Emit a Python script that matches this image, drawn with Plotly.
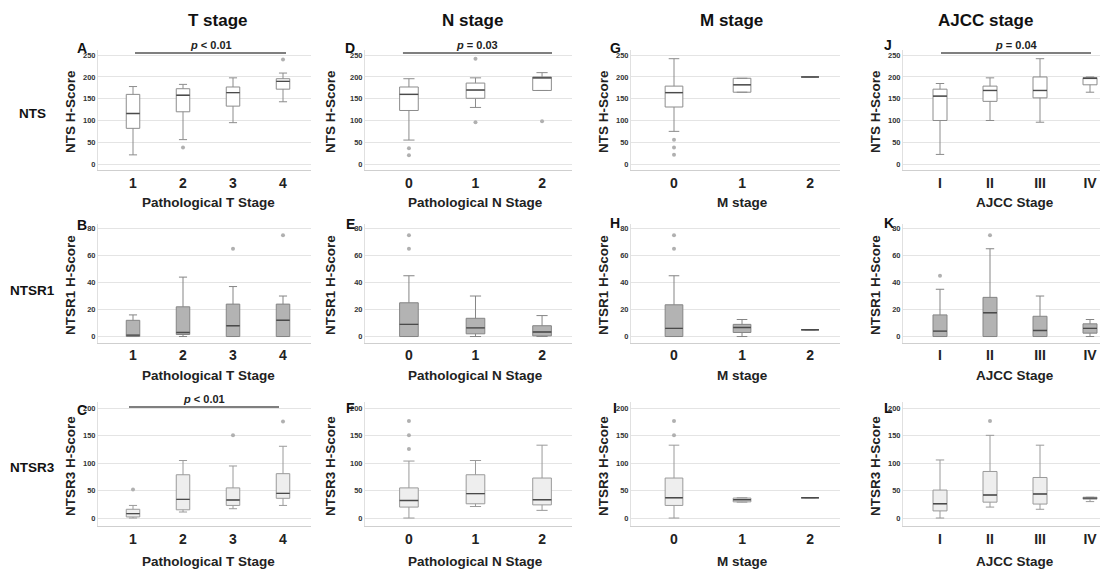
import plotly.graph_objects as go

FONT = "Arial, Liberation Sans, sans-serif"

# ---------------- categories ----------------
T_cats = ["1", "2", "3", "4"]
N_cats = ["0", "1", "2"]
M_cats = ["0", "1", "2"]
AJCC_cats = ["I", "II", "III", "IV"]

# ---------------- NTS H-score (row 1) ----------------
NTS_T = dict(low=[21, 56, 95, 143], q1=[82, 120, 133, 172], med=[116, 158, 164, 190],
             q3=[160, 173, 177, 196], high=[178, 183, 198, 209])
NTS_T_out = [("2", 38), ("4", 240)]
NTS_N = dict(low=[55, 130, 169], q1=[123, 151, 169], med=[160, 170, 198],
             q3=[177, 186, 200], high=[196, 198, 210])
NTS_N_out = [("0", 36), ("0", 20), ("1", 242), ("1", 96), ("2", 98)]
NTS_M = dict(low=[75, 165, 200], q1=[131, 165, 200], med=[164, 182, 200],
             q3=[179, 197, 200], high=[242, 197, 200])
NTS_M_out = [("0", 56), ("0", 38), ("0", 21)]
NTS_AJCC = dict(low=[22, 100, 96, 165], q1=[100, 144, 152, 182], med=[156, 169, 169, 197],
                q3=[172, 179, 200, 198.5], high=[185, 198, 242, 200])
NTS_AJCC_out = []

# ---------------- NTSR1 H-score (row 2) ----------------
NTSR1_T = dict(low=[0, 0, 0, 0], q1=[0, 1.5, 0, 0], med=[1, 3, 8, 12],
               q3=[12, 22, 24, 24], high=[16, 44, 37, 30])
NTSR1_T_out = [("3", 65), ("4", 75)]
NTSR1_N = dict(low=[0, 0, 0], q1=[0, 2, 0.5], med=[9, 6.4, 3.4],
               q3=[25, 13.5, 8], high=[45, 30, 15.5])
NTSR1_N_out = [("0", 75), ("0", 65)]
NTSR1_M = dict(low=[0, 0, 5], q1=[0, 3, 5], med=[6, 6.7, 5],
               q3=[23.5, 9, 5], high=[45, 12.6, 5])
NTSR1_M_out = [("0", 75), ("0", 65)]
NTSR1_AJCC = dict(low=[0, 0, 0, 0], q1=[0, 0, 0, 2.5], med=[4, 17.6, 4.5, 6],
                  q3=[16, 29, 15, 9.4], high=[35, 65, 30, 12.6])
NTSR1_AJCC_out = [("I", 45), ("II", 75)]

# ---------------- NTSR3 H-score (row 3) ----------------
NTSR3_T = dict(low=[0, 11, 17, 23], q1=[2, 15, 23, 36], med=[8, 34, 33, 45],
               q3=[16, 79, 55, 81], high=[23, 105, 95, 131])
NTSR3_T_out = [("1", 52), ("3", 151), ("4", 176)]
NTSR3_N = dict(low=[0, 21, 14], q1=[20, 26, 24], med=[32, 44.5, 33.5],
               q3=[55, 79, 73], high=[104, 105, 133])
NTSR3_N_out = [("0", 177), ("0", 151), ("0", 126)]
NTSR3_M = dict(low=[0, 29, 37], q1=[23, 29.5, 37], med=[37, 33.5, 37],
               q3=[73, 36.5, 37], high=[133, 37, 37])
NTSR3_M_out = [("0", 177), ("0", 151)]
NTSR3_AJCC = dict(low=[0, 20, 16, 30], q1=[13, 29, 25.5, 34.5], med=[26, 42, 44, 36.4],
                  q3=[51, 85, 74, 38], high=[106, 151, 133, 38])
NTSR3_AJCC_out = [("II", 177)]

# ---------------- labels ----------------
col_headers = ["T stage", "N stage", "M stage", "AJCC stage"]
row_labels = ["NTS", "NTSR1", "NTSR3"]
y_titles = ["NTS H-Score", "NTSR1 H-Score", "NTSR3 H-Score"]
x_titles = ["Pathological T Stage", "Pathological N Stage", "M stage", "AJCC Stage"]
panel_letters = [["A", "D", "G", "J"], ["B", "E", "H", "K"], ["C", "F", "I", "L"]]
p_values = {(0, 0): "<i>p</i> &lt; 0.01", (0, 1): "<i>p</i> = 0.03",
            (0, 3): "<i>p</i> = 0.04", (2, 0): "<i>p</i> &lt; 0.01"}

cats = [T_cats, N_cats, M_cats, AJCC_cats]
panels = [
    [(NTS_T, NTS_T_out), (NTS_N, NTS_N_out), (NTS_M, NTS_M_out), (NTS_AJCC, NTS_AJCC_out)],
    [(NTSR1_T, NTSR1_T_out), (NTSR1_N, NTSR1_N_out), (NTSR1_M, NTSR1_M_out), (NTSR1_AJCC, NTSR1_AJCC_out)],
    [(NTSR3_T, NTSR3_T_out), (NTSR3_N, NTSR3_N_out), (NTSR3_M, NTSR3_M_out), (NTSR3_AJCC, NTSR3_AJCC_out)],
]

# ---------------- layout geometry (pixels) ----------------
W, H = 1110, 572
col_px = [(98, 310.5), (365, 572), (631, 840), (903, 1100)]
col_range = [(-0.7, 3.55), (-0.66, 2.45), (-0.632, 2.44), (-0.74, 3.2)]
row_px = [(50, 170.1), (224.45, 342.6), (401.9, 525.7)]
row_range = [(-14, 262), (-4.5, 83), (-14, 212)]
row_dtick = [50, 20, 50]
box_w = [0.27, 0.28, 0.26, 0.28]
fill_cols = ["rgba(255,255,255,1)", "#b3b3b3", "#eeeeee"]
line_cols = ["#8c8c8c", "#858585", "#9a9a9a"]
p_line_y = [255, None, 202.7]
p_line_ext = {(0, 0): (0.04, 0.06), (0, 1): (-0.09, 0.15), (0, 3): (0.02, 0.02), (2, 0): (-0.08, -0.08)}
letter_px = [[(82, 48), (350, 48), (615, 48), (888, 45)],
             [(82, 225), (350, 224), (615, 223), (889, 223)],
             [(82, 410), (350, 408), (615, 408), (888, 408)]]
ytitle_x = [70, 330, 603, 875]
ytitle_y = [112, 285, 466]
xtitle_y = [202, 375, 561]
header_px = [(218, 20), (472, 20), (731, 20), (985, 20)]
rowlabel_y = [114, 290, 467]


def px(x):
    return x / W


def py(y):
    return 1 - y / H


fig = go.Figure()
layout_axes = {}
annotations = []
shapes = []

for r in range(3):
    for c in range(4):
        k = r * 4 + c + 1
        xa = "x" if k == 1 else f"x{k}"
        ya = "y" if k == 1 else f"y{k}"
        stats, outs = panels[r][c]
        cl = cats[c]
        pos = list(range(len(cl)))
        w = box_w[c]
        fig.add_trace(go.Box(
            x=pos, q1=stats["q1"], median=stats["med"], q3=stats["q3"],
            lowerfence=stats["low"], upperfence=stats["high"],
            width=w, whiskerwidth=0.6, fillcolor=fill_cols[r],
            line=dict(color=line_cols[r], width=1), boxpoints=False,
            xaxis=xa, yaxis=ya, showlegend=False, hoverinfo="skip"))
        # darker median lines
        mx, my = [], []
        for i, m in zip(pos, stats["med"]):
            mx += [i - w / 2, i + w / 2, None]
            my += [m, m, None]
        fig.add_trace(go.Scatter(x=mx, y=my, mode="lines",
                                 line=dict(color="#4a4a4a", width=1.4),
                                 xaxis=xa, yaxis=ya, showlegend=False, hoverinfo="skip"))
        if outs:
            fig.add_trace(go.Scatter(
                x=[cl.index(o[0]) for o in outs], y=[o[1] for o in outs], mode="markers",
                marker=dict(color="#b0b0b0", size=4, symbol="circle"),
                xaxis=xa, yaxis=ya, showlegend=False, hoverinfo="skip"))

        x0p, x1p = col_px[c]
        y0p, y1p = row_px[r]
        xkey = "xaxis" if k == 1 else f"xaxis{k}"
        ykey = "yaxis" if k == 1 else f"yaxis{k}"
        layout_axes[xkey] = dict(
            domain=[px(x0p), px(x1p)], anchor=ya, range=list(col_range[c]),
            tickmode="array", tickvals=pos, ticktext=cl,
            tickfont=dict(family=FONT, size=14, color="#222222", weight="bold"),
            showgrid=False, zeroline=False, showline=True, linecolor="#cfcfcf",
            linewidth=1, ticks="", fixedrange=True)
        layout_axes[ykey] = dict(
            domain=[py(y1p), py(y0p)], anchor=xa, range=list(row_range[r]),
            tick0=0, dtick=row_dtick[r],
            tickfont=dict(family=FONT, size=7.5, color="#333333", weight="bold"),
            showgrid=True, gridcolor="#e4e4e4", gridwidth=1, zeroline=False,
            showline=True, linecolor="#e0e0e0", ticks="", fixedrange=True)

        # panel letters
        lx, ly = letter_px[r][c]
        annotations.append(dict(text=panel_letters[r][c], x=px(lx), y=py(ly), xref="paper", yref="paper",
                                showarrow=False, xanchor="center", yanchor="middle",
                                font=dict(family=FONT, size=14, color="#111111", weight="bold")))
        # y titles
        annotations.append(dict(text=y_titles[r], x=px(ytitle_x[c]), y=py(ytitle_y[r]), xref="paper", yref="paper",
                                showarrow=False, textangle=-90, xanchor="center", yanchor="middle",
                                font=dict(family=FONT, size=13.5, color="#222222", weight="bold")))
        # x titles centered on the category span
        span = col_range[c][1] - col_range[c][0]
        cx = x0p + ((0 - col_range[c][0]) + (len(cl) - 1 - col_range[c][0])) / 2 / span * (x1p - x0p)
        annotations.append(dict(text=x_titles[c], x=px(cx), y=py(xtitle_y[r]), xref="paper", yref="paper",
                                showarrow=False, xanchor="center", yanchor="middle",
                                font=dict(family=FONT, size=13.5, color="#222222", weight="bold")))
        # p-value bars
        if (r, c) in p_values:
            e0, e1 = p_line_ext[(r, c)]
            xs, xe = 0 + e0, len(cl) - 1 + e1
            shapes.append(dict(type="line", xref=xa, yref=ya, x0=xs, x1=xe,
                               y0=p_line_y[r], y1=p_line_y[r], line=dict(color="#555555", width=1.5)))
            annotations.append(dict(text=p_values[(r, c)], x=(xs + xe) / 2, y=p_line_y[r], xref=xa, yref=ya,
                                    showarrow=False, xanchor="center", yanchor="bottom", yshift=0,
                                    font=dict(family=FONT, size=11, color="#222222", weight="bold")))

for c in range(4):
    hx, hy = header_px[c]
    annotations.append(dict(text=col_headers[c], x=px(hx), y=py(hy), xref="paper", yref="paper",
                            showarrow=False, xanchor="center", yanchor="middle",
                            font=dict(family=FONT, size=17, color="#111111", weight="bold")))
for r in range(3):
    annotations.append(dict(text=row_labels[r], x=px(32), y=py(rowlabel_y[r]), xref="paper", yref="paper",
                            showarrow=False, xanchor="center", yanchor="middle",
                            font=dict(family=FONT, size=13.5, color="#111111", weight="bold")))

fig.update_layout(
    width=W, height=H, margin=dict(l=0, r=0, t=0, b=0),
    paper_bgcolor="white", plot_bgcolor="white",
    font=dict(family=FONT), annotations=annotations, shapes=shapes,
    **layout_axes)

fig.write_html("out.html", config={"displayModeBar": False},
               post_script="document.body.style.margin='0px';document.body.style.overflow='hidden';")
